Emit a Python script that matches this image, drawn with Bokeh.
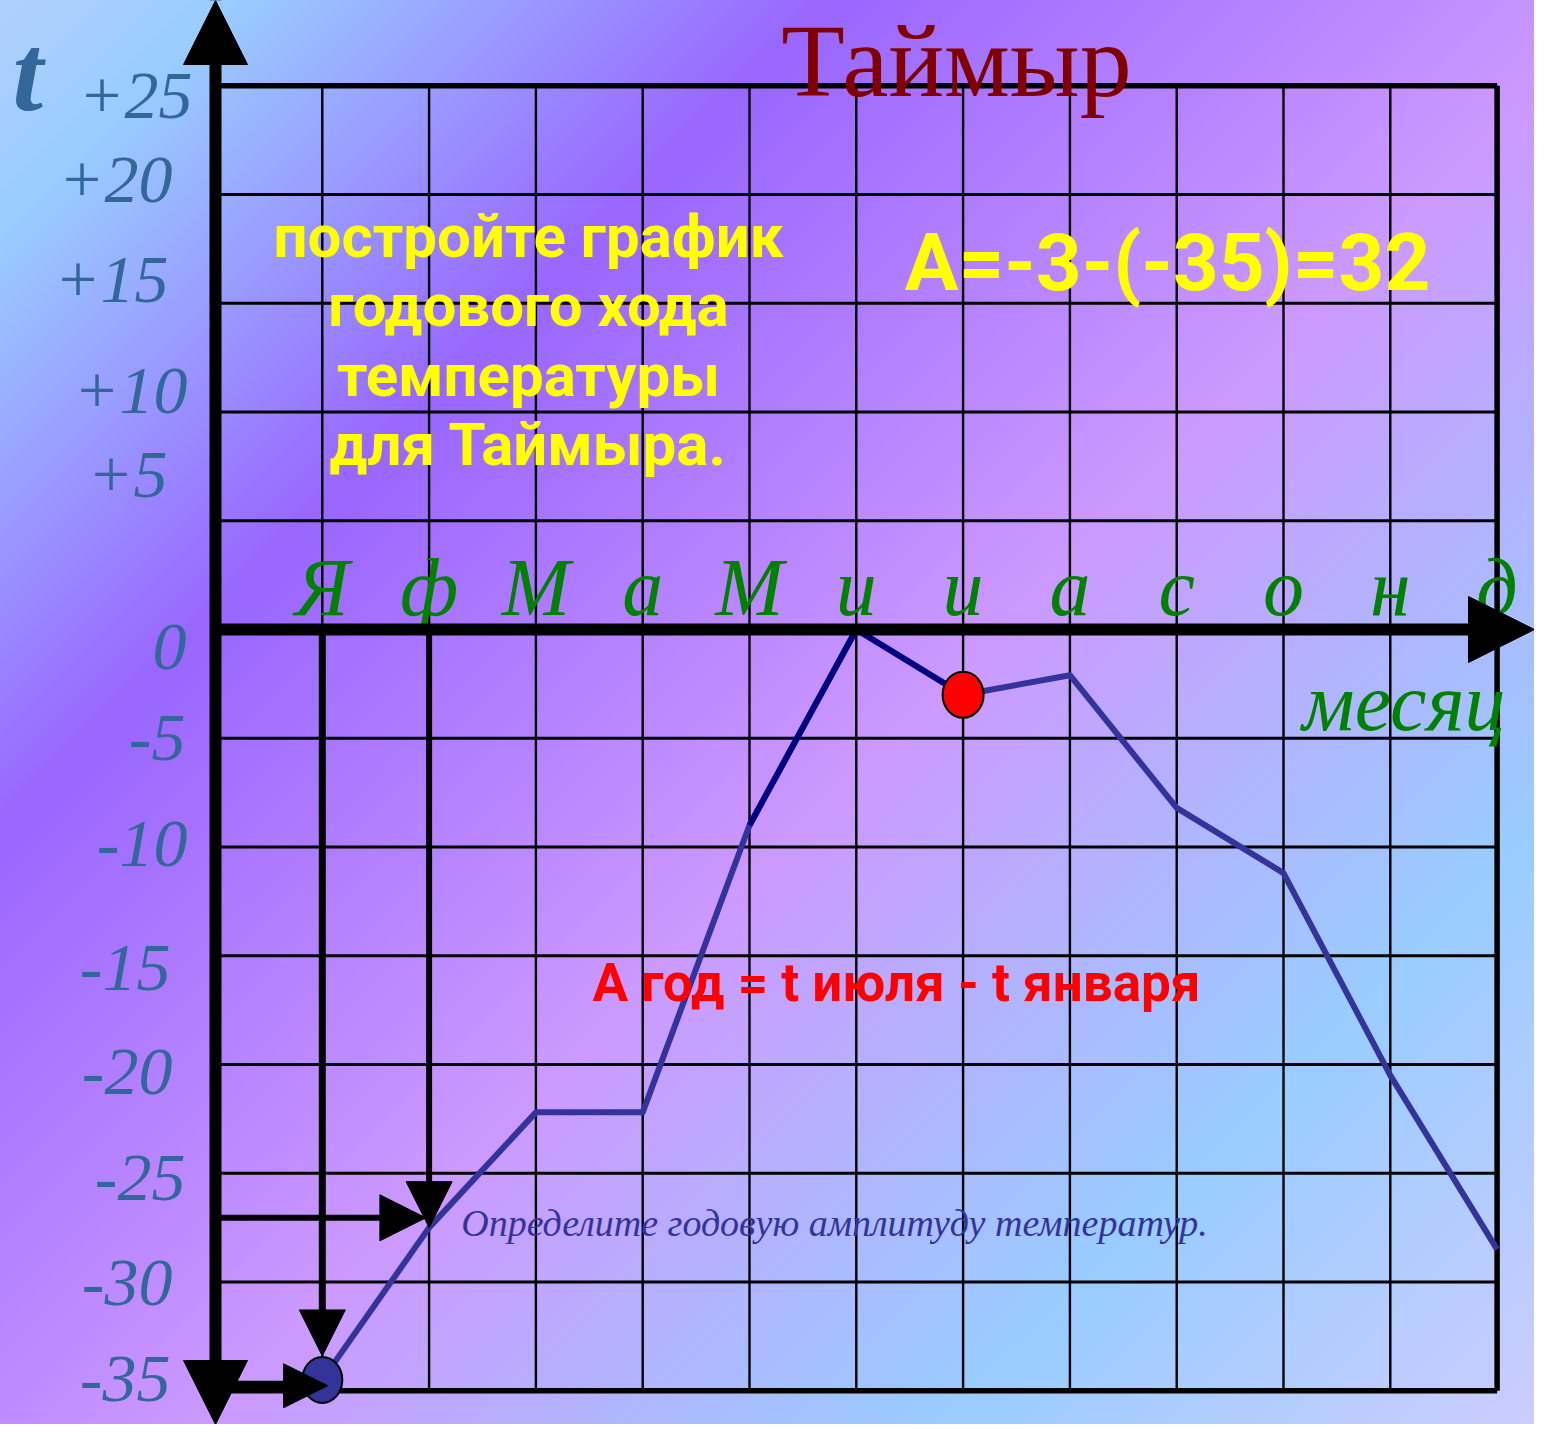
import numpy as np
from bokeh.plotting import figure
from bokeh.models import Range1d, Arrow, NormalHead, ColumnDataSource
from bokeh.core.properties import value
from bokeh.embed import file_html
from bokeh.resources import INLINE

# ---------------- data ----------------
title_text = "Таймыр"
month_labels = ["Я", "ф", "М", "а", "М", "и", "и", "а", "с", "о", "н", "д"]
month_pos = [1, 2, 3, 4, 5, 6, 7, 8, 9, 10, 11, 12]
temps = [-34.5, -27.5, -22.2, -22.2, -9.0, 0.0, -3.0, -2.1, -8.2, -11.2, -20.5, -28.5]
ytick_vals = [25, 20, 15, 10, 5, 0, -5, -10, -15, -20, -25, -30, -35]
ytick_labels = ["+25", "+20", "+15", "+10", "+5", "0", "-5", "-10", "-15",
                "-20", "-25", "-30", "-35"]
axis_t_label = "t"
axis_month_label = "месяц"
task_text = "постройте график\nгодового хода\nтемпературы\nдля Таймыра."
formula_text = "А=-3-(-35)=32"
rule_text = "А год = t июля - t января"
question_text = "Определите годовую амплитуду температур."

# ---------------- layout helpers (reference px -> data units) ----------------
PXX = 106.8   # px per month
PXY = 21.75   # px per degree
X0PX = 215.0  # px of the vertical axis (x = 0)
Y0PX = 629.0  # px of the horizontal axis (t = 0)
MID = 0.34    # em distance from alphabetic baseline up to the em-box middle


def ux(px):
    return (px - X0PX) / PXX


def uy(py):
    return (Y0PX - py) / PXY


def base_y(py, size):
    """y (data units) of the em-box middle for a text whose baseline is at py."""
    return uy(py - MID * size)


W, H = 1534, 1424
p = figure(width=W, height=H, x_range=Range1d(ux(0), ux(W)),
           y_range=Range1d(uy(H), uy(0)), output_backend="svg",
           toolbar_location=None, min_border=0,
           x_axis_location=None, y_axis_location=None)
p.grid.visible = False
p.outline_line_color = None
p.background_fill_alpha = 0
p.border_fill_alpha = 0
p.styles = {"background": "linear-gradient(135deg, #b0d0ff 0%, #99ccff 8%, "
                          "#9966ff 28%, #cc99ff 55%, #99ccff 80%, #ccccff 100%)"}

ymax, ymin = max(ytick_vals), min(ytick_vals)
xmax = max(month_pos)
xleft = ux(220)

# ---------------- grid ----------------
n = len(ytick_vals)
p.segment(x0=[xleft] * n, y0=ytick_vals, x1=[xmax] * n, y1=ytick_vals,
          line_color="black", line_width=2.8)
inner = month_pos[:-1]
p.segment(x0=inner, y0=[ymin] * len(inner), x1=inner, y1=[ymax] * len(inner),
          line_color="black", line_width=2.4)
# frame
p.segment(x0=[xleft, xleft, xmax], y0=[ymax, ymin, ymin],
          x1=[xmax, xmax, xmax], y1=[ymax, ymin, ymax],
          line_color="black", line_width=5.5)

# ---------------- data line ----------------
src = ColumnDataSource(dict(x=month_pos, t=temps))
p.line("x", "t", source=src, line_color="#333399", line_width=6, line_join="round")
p.line(month_pos[4:7], temps[4:7], line_color="#000080", line_width=6, line_join="round")

# ---------------- construction arrows ----------------
head = dict(fill_color="black", line_color="black", line_width=1)
jan_x, feb_x = month_pos[0], month_pos[1]
jan_t, feb_t = temps[0], temps[1]
p.add_layout(Arrow(end=NormalHead(size=46, **head), x_start=jan_x, y_start=0,
                   x_end=jan_x, y_end=jan_t + 1.1, line_width=7, line_color="black"))
p.add_layout(Arrow(end=NormalHead(size=46, **head), x_start=feb_x, y_start=0,
                   x_end=feb_x, y_end=feb_t, line_width=6, line_color="black"))
p.add_layout(Arrow(end=NormalHead(size=46, **head), x_start=xleft, y_start=feb_t + 0.45,
                   x_end=feb_x - 0.03, y_end=feb_t + 0.45, line_width=6, line_color="black"))
p.add_layout(Arrow(end=NormalHead(size=44, **head), x_start=0, y_start=jan_t - 0.27,
                   x_end=jan_x + 0.05, y_end=jan_t - 0.27, line_width=10, line_color="black"))

# markers (January minimum, July)
p.ellipse(x=[jan_x], y=[jan_t], width=40, height=46, width_units="screen",
          height_units="screen", fill_color="#333399", line_color="black", line_width=2)
p.ellipse(x=[month_pos[6]], y=[temps[6]], width=41, height=46, width_units="screen",
          height_units="screen", fill_color="#ff0000", line_color="black", line_width=2)

# ---------------- main axes with arrows ----------------
p.add_layout(Arrow(start=NormalHead(size=64, **head), end=NormalHead(size=64, **head),
                   x_start=0, y_start=uy(H), x_end=0, y_end=uy(0),
                   line_width=12, line_color="black"))
p.add_layout(Arrow(end=NormalHead(size=66, **head), x_start=0, y_start=0,
                   x_end=ux(W), y_end=0, line_width=12, line_color="black"))

# ---------------- texts ----------------
serif = value("Liberation Serif")
sans = value("Roboto")

# y tick labels (small hand-placed nudges, in px, like the original slide)
TICK_FS = 68
ytick_dx = [7, -13, -17, 2, -18, 1, 0, 2, -15, -13, 0, -13, -15]
ytick_dy = [8, -16, -25, -23, -48, 16, -2, -5, 10, 6, 3, -1, -14]
ysrc = ColumnDataSource(dict(
    x=[ux(185 + d) for d in ytick_dx],
    y=[v - (25 + d - MID * TICK_FS) / PXY for v, d in zip(ytick_vals, ytick_dy)],
    text=ytick_labels))
p.text("x", "y", "text", source=ysrc, text_font=serif, text_font_style="italic",
       text_font_size=f"{TICK_FS}px", text_color="#336699", text_align="right",
       text_baseline="middle")

p.text(x=[ux(12)], y=[base_y(110, 110)], text=[axis_t_label], text_font=serif,
       text_font_style="bold italic", text_font_size="110px", text_color="#336699",
       text_align="left", text_baseline="middle")

# month letters
MFS = 82
msrc = ColumnDataSource(dict(x=month_pos, y=[base_y(615, MFS)] * len(month_pos),
                             text=month_labels))
p.text("x", "y", "text", source=msrc, text_font=serif, text_font_style="italic",
       text_font_size=f"{MFS}px", text_color="#008000", text_align="center",
       text_baseline="middle")
p.text(x=[ux(1505)], y=[base_y(730, MFS)], text=[axis_month_label], text_font=serif,
       text_font_style="italic", text_font_size=f"{MFS}px", text_color="#008000",
       text_align="right", text_baseline="middle")

# title
p.text(x=[ux(956)], y=[base_y(95, 104)], text=[title_text], text_font=serif,
       text_font_size="104px", text_color="#800000", text_align="center",
       text_baseline="middle")

# task (yellow)
p.text(x=[ux(528)], y=[uy(340)], text=[task_text], text_font=sans,
       text_font_style="bold", text_font_size="60px", text_color="#ffff00",
       text_align="center", text_baseline="middle", text_line_height=0.98)

# formula
p.text(x=[ux(1167)], y=[uy(262)], text=[formula_text], text_font=sans,
       text_font_style="bold", text_font_size="80px", text_color="#ffff00",
       text_align="center", text_baseline="middle")

# rule (red)
p.text(x=[ux(896)], y=[uy(982)], text=[rule_text], text_font=sans,
       text_font_style="bold", text_font_size="53px", text_color="#ff0000",
       text_align="center", text_baseline="middle")

# question (blue)
p.text(x=[ux(834)], y=[uy(1222)], text=[question_text], text_font=serif,
       text_font_style="italic", text_font_size="38px", text_color="#333399",
       text_align="center", text_baseline="middle")

open("out.html", "w").write(file_html(p, INLINE))
